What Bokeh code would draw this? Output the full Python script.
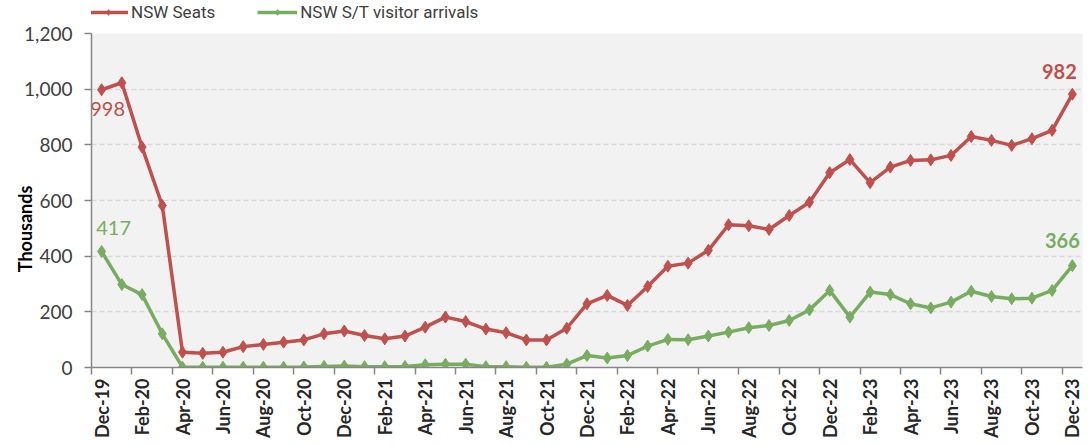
import math
from bokeh.plotting import figure
from bokeh.layouts import column
from bokeh.models import (Range1d, FixedTicker, NumeralTickFormatter, Legend, LegendItem)
from bokeh.core.properties import value
from bokeh.embed import file_html
from bokeh.resources import INLINE

months = ["Dec-19", "Jan-20", "Feb-20", "Mar-20", "Apr-20", "May-20", "Jun-20", "Jul-20",
          "Aug-20", "Sep-20", "Oct-20", "Nov-20", "Dec-20", "Jan-21", "Feb-21", "Mar-21",
          "Apr-21", "May-21", "Jun-21", "Jul-21", "Aug-21", "Sep-21", "Oct-21", "Nov-21",
          "Dec-21", "Jan-22", "Feb-22", "Mar-22", "Apr-22", "May-22", "Jun-22", "Jul-22",
          "Aug-22", "Sep-22", "Oct-22", "Nov-22", "Dec-22", "Jan-23", "Feb-23", "Mar-23",
          "Apr-23", "May-23", "Jun-23", "Jul-23", "Aug-23", "Sep-23", "Oct-23", "Nov-23",
          "Dec-23"]

nsw_seats = [998, 1023, 792, 582, 55, 51, 55, 75, 83, 91, 99, 121, 131, 115, 103, 113,
             145, 181, 165, 138, 125, 99, 99, 141, 229, 259, 223, 291, 364, 375, 421, 513,
             509, 496, 546, 594, 700, 747, 664, 720, 744, 746, 762, 830, 816, 798, 822, 852,
             982]

nsw_arrivals = [417, 298, 262, 121, 1, 1, 1, 1, 1, 1, 2, 4, 5, 3, 3, 4,
                10, 12, 12, 3, 3, 1, 1, 12, 43, 34, 43, 77, 101, 100, 113, 127,
                143, 151, 169, 207, 277, 181, 271, 262, 229, 214, 235, 274, 255, 247, 249, 277,
                366]

series_names = ["NSW Seats", "NSW S/T visitor arrivals"]
y_ticks = [0, 200, 400, 600, 800, 1000, 1200]

RED = "#c0504d"
GREEN = "#78ad61"
FONT = "Lato"

idx = list(range(len(months)))

# ---------------- legend strip (separate small figure) ----------------
lf = figure(width=1084, height=22, output_backend="svg", toolbar_location=None,
            x_axis_type=None, y_axis_type=None,
            x_range=Range1d(0, 1), y_range=Range1d(0, 1),
            min_border_left=0, min_border_right=0, min_border_top=0, min_border_bottom=0)
lf.outline_line_color = None
lf.grid.grid_line_color = None
lf.background_fill_color = "white"
# legend-only renderers, their points lie outside the visible range
ll1 = lf.line([5, 6], [5, 6], line_color=RED, line_width=3.5)
ls1 = lf.scatter([5], [5], marker="diamond", size=12, fill_color=RED, line_color=RED)
ll2 = lf.line([5, 6], [5, 6], line_color=GREEN, line_width=3.5)
ls2 = lf.scatter([5], [5], marker="diamond", size=12, fill_color=GREEN, line_color=GREEN)
legend = Legend(items=[LegendItem(label=series_names[0], renderers=[ll1, ls1]),
                       LegendItem(label=series_names[1], renderers=[ll2, ls2])],
                orientation="horizontal", location=(-3, 0),
                glyph_width=40, glyph_height=14, label_height=14,
                label_standoff=3, spacing=42, padding=0, margin=0,
                border_line_color=None, background_fill_alpha=0,
                label_text_font="Roboto", label_text_font_size="17px",
                label_text_color="#404040")
lf.add_layout(legend, "center")

# ---------------- main chart ----------------
p = figure(width=1084, height=418, output_backend="svg", toolbar_location=None,
           x_range=Range1d(-0.5, len(months) - 0.5), y_range=Range1d(0, 1200),
           min_border_left=91, min_border_right=2, min_border_top=11, min_border_bottom=73)
p.frame_width = 991
p.frame_height = 334

p.background_fill_color = "#f2f2f2"
p.border_fill_color = "white"
p.outline_line_color = None

p.xgrid.grid_line_color = None
p.ygrid.grid_line_color = "#d9d9d9"
p.ygrid.grid_line_dash = "5 3"
p.ygrid.grid_line_width = 1.5

# y axis
p.yaxis.ticker = FixedTicker(ticks=y_ticks)
p.yaxis.formatter = NumeralTickFormatter(format="0,0")
p.yaxis.major_label_text_font = FONT
p.yaxis.major_label_text_font_size = "19px"
p.yaxis.major_label_text_color = "#404040"
p.yaxis.axis_line_color = "#868686"
p.yaxis.axis_line_width = 1.5
p.yaxis.major_tick_line_color = "#868686"
p.yaxis.major_tick_line_width = 1.5
p.yaxis.major_tick_out = 7
p.yaxis.major_tick_in = 0
p.yaxis.minor_tick_line_color = None
p.yaxis.major_label_standoff = 12
p.yaxis.axis_label = "Thousands" + "\u00a0" * 13
p.yaxis.axis_label_text_font = FONT
p.yaxis.axis_label_text_font_style = "bold"
p.yaxis.axis_label_text_font_size = "18px"
p.yaxis.axis_label_text_color = "#000000"
p.yaxis.axis_label_standoff = -15

# x axis
label_pos = idx[::2]
p.xaxis.ticker = FixedTicker(ticks=label_pos,
                             minor_ticks=[i - 0.5 for i in label_pos])
p.xaxis.major_label_overrides = {i: months[i] for i in label_pos}
p.xaxis.major_label_orientation = math.pi / 2
p.xaxis.major_label_text_font = FONT
p.xaxis.major_label_text_font_style = "bold"
p.xaxis.major_label_text_font_size = "18px"
p.xaxis.major_label_text_color = "#262626"
p.xaxis.axis_line_color = "#868686"
p.xaxis.axis_line_width = 1.5
p.xaxis.major_tick_line_color = None
p.xaxis.major_tick_out = 7
p.xaxis.major_tick_in = 0
p.xaxis.minor_tick_line_color = "#868686"
p.xaxis.minor_tick_line_width = 1.5
p.xaxis.minor_tick_out = 7
p.xaxis.minor_tick_in = 0
p.xaxis.major_label_standoff = 4

# series
p.line(idx, nsw_seats, line_color=RED, line_width=3.5)
p.scatter(idx, nsw_seats, marker="diamond", size=12, fill_color=RED, line_color=RED)
p.line(idx, nsw_arrivals, line_color=GREEN, line_width=3.5)
p.scatter(idx, nsw_arrivals, marker="diamond", size=12, fill_color=GREEN, line_color=GREEN)

# data labels (first and last points)
first, last = 0, len(months) - 1
p.text(x=[first], y=[nsw_seats[first]], text=[f"{nsw_seats[first]:,}"],
       x_offset=6, y_offset=19, text_align="center", text_baseline="middle",
       text_font=value(FONT), text_font_size="20px", text_color=RED)
p.text(x=[first], y=[nsw_arrivals[first]], text=[f"{nsw_arrivals[first]:,}"],
       x_offset=12, y_offset=-23, text_align="center", text_baseline="middle",
       text_font=value(FONT), text_font_size="20px", text_color=GREEN)
p.text(x=[last], y=[nsw_seats[last]], text=[f"{nsw_seats[last]:,}"],
       x_offset=-13, y_offset=-23, text_align="center", text_baseline="middle",
       text_font=value(FONT), text_font_size="20px", text_font_style="bold", text_color=RED)
p.text(x=[last], y=[nsw_arrivals[last]], text=[f"{nsw_arrivals[last]:,}"],
       x_offset=-10, y_offset=-25, text_align="center", text_baseline="middle",
       text_font=value(FONT), text_font_size="20px", text_font_style="bold", text_color=GREEN)

layout = column(lf, p, spacing=0)
open("out.html", "w").write(file_html(layout, INLINE))
